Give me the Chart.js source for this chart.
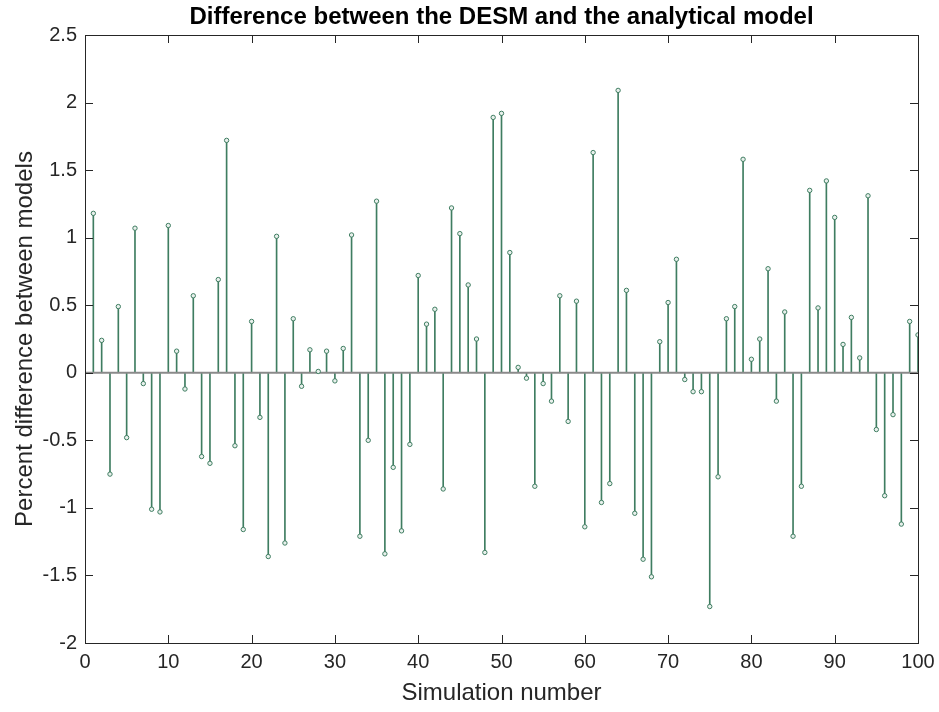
<!DOCTYPE html>
<html>
<head>
<meta charset="utf-8">
<script src="https://cdn.jsdelivr.net/npm/chart.js@4.4.1/dist/chart.umd.min.js"></script>
<style>
  html, body { margin: 0; padding: 0; background: #ffffff; }
  #wrap { width: 939px; height: 712px; }
</style>
</head>
<body>
<div id="wrap"><canvas id="stemChart" width="939" height="712"></canvas></div>
<script>
// Percent difference between the DESM and the analytical model, per simulation run
const simulationNumbers = Array.from({ length: 100 }, (_, i) => i + 1);
const percentDifference = [
  1.18, 0.24, -0.75, 0.49, -0.48, 1.07, -0.08, -1.01, -1.03, 1.09,
  0.16, -0.12, 0.57, -0.62, -0.67, 0.69, 1.72, -0.54, -1.16, 0.38,
  -0.33, -1.36, 1.01, -1.26, 0.40, -0.10, 0.17, 0.01, 0.16, -0.06,
  0.18, 1.02, -1.21, -0.50, 1.27, -1.34, -0.70, -1.17, -0.53, 0.72,
  0.36, 0.47, -0.86, 1.22, 1.03, 0.65, 0.25, -1.33, 1.89, 1.92,
  0.89, 0.04, -0.04, -0.84, -0.08, -0.21, 0.57, -0.36, 0.53, -1.14,
  1.63, -0.96, -0.82, 2.09, 0.61, -1.04, -1.38, -1.51, 0.23, 0.52,
  0.84, -0.05, -0.14, -0.14, -1.73, -0.77, 0.40, 0.49, 1.58, 0.10,
  0.25, 0.77, -0.21, 0.45, -1.21, -0.84, 1.35, 0.48, 1.42, 1.15,
  0.21, 0.41, 0.11, 1.31, -0.42, -0.91, -0.31, -1.12, 0.38, 0.28
];
const xTickValues = [0, 10, 20, 30, 40, 50, 60, 70, 80, 90, 100];
const yTickValues = [2.5, 2, 1.5, 1, 0.5, 0, -0.5, -1, -1.5, -2];
const baselineValue = 0;

const stemData = simulationNumbers.map((n, i) => ({ x: n, y: percentDifference[i] }));
const baselineData = [
  { x: xTickValues[0], y: baselineValue },
  { x: xTickValues[xTickValues.length - 1], y: baselineValue }
];

const AXIS_COLOR = '#262626';
const STEM_COLOR = '#3f7d61';
const TICK_LEN = 8;
const FONT = "'Liberation Sans', Arial, Helvetica, sans-serif";

// Box around the axes with inward-pointing tick marks on all four sides
const boxTicks = {
  id: 'boxTicks',
  afterDraw(chart) {
    const { ctx, chartArea: a, scales: { x, y } } = chart;
    ctx.save();
    ctx.strokeStyle = AXIS_COLOR;
    ctx.lineWidth = 1;
    ctx.beginPath();
    x.ticks.forEach(t => {
      const px = Math.round(x.getPixelForValue(t.value)) + 0.5;
      ctx.moveTo(px, a.bottom); ctx.lineTo(px, a.bottom - TICK_LEN);
      ctx.moveTo(px, a.top); ctx.lineTo(px, a.top + TICK_LEN);
    });
    y.ticks.forEach(t => {
      const py = Math.round(y.getPixelForValue(t.value)) + 0.5;
      ctx.moveTo(a.left, py); ctx.lineTo(a.left + TICK_LEN, py);
      ctx.moveTo(a.right, py); ctx.lineTo(a.right - TICK_LEN, py);
    });
    ctx.stroke();
    ctx.strokeRect(Math.round(a.left) + 0.5, Math.round(a.top) + 0.5,
                   Math.round(a.right - a.left), Math.round(a.bottom - a.top));
    ctx.restore();
  }
};

new Chart(document.getElementById('stemChart'), {
  type: 'bar',
  data: {
    datasets: [
      {
        type: 'scatter',
        label: 'markers',
        data: stemData,
        showLine: false,
        pointStyle: 'circle',
        pointRadius: 2.2,
        pointBorderWidth: 1,
        pointBorderColor: STEM_COLOR,
        pointBackgroundColor: '#e8f0ec',
        order: 0
      },
      {
        type: 'line',
        label: 'baseline',
        data: baselineData,
        borderColor: '#8a8a8a',
        borderWidth: 2,
        pointRadius: 0,
        order: 1
      },
      {
        type: 'bar',
        label: 'stems',
        data: stemData,
        backgroundColor: STEM_COLOR,
        borderWidth: 0,
        barThickness: 1,
        order: 2
      }
    ]
  },
  options: {
    responsive: false,
    animation: false,
    layout: { padding: { left: 0, right: 21, top: 0, bottom: 0 } },
    plugins: {
      legend: { display: false },
      tooltip: { enabled: false },
      title: {
        display: true,
        fullSize: false,
        text: 'Difference between the DESM and the analytical model',
        color: '#000000',
        font: { family: FONT, size: 24, weight: 'bold', lineHeight: 1.2 },
        padding: { top: 2.6, bottom: 3.6 }
      }
    },
    scales: {
      x: {
        type: 'linear',
        offset: false,
        min: xTickValues[0],
        max: xTickValues[xTickValues.length - 1],
        afterBuildTicks(scale) { scale.ticks = xTickValues.map(v => ({ value: v })); },
        afterFit(scale) {
          scale.height = 69;
          scale.paddingLeft = 0;
          scale.paddingRight = 0;
        },
        grid: { display: false, drawTicks: false, offset: false },
        border: { display: false },
        ticks: {
          color: AXIS_COLOR,
          font: { family: FONT, size: 20 },
          padding: 7,
          maxRotation: 0,
          autoSkip: false
        },
        title: {
          display: true,
          text: 'Simulation number',
          color: AXIS_COLOR,
          font: { family: FONT, size: 24 },
          padding: { top: 0, bottom: 4.6 }
        }
      },
      y: {
        type: 'linear',
        min: yTickValues[yTickValues.length - 1],
        max: yTickValues[0],
        afterBuildTicks(scale) { scale.ticks = yTickValues.slice().reverse().map(v => ({ value: v })); },
        afterFit(scale) { scale.width = 85; },
        grid: { display: false, drawTicks: false },
        border: { display: false },
        ticks: {
          color: AXIS_COLOR,
          font: { family: FONT, size: 20 },
          padding: 8,
          autoSkip: false,
          callback: v => String(v)
        },
        title: {
          display: true,
          text: 'Percent difference between models',
          color: AXIS_COLOR,
          font: { family: FONT, size: 24 },
          padding: { top: 10.6, bottom: 0 }
        }
      }
    }
  },
  plugins: [boxTicks]
});
</script>
</body>
</html>
